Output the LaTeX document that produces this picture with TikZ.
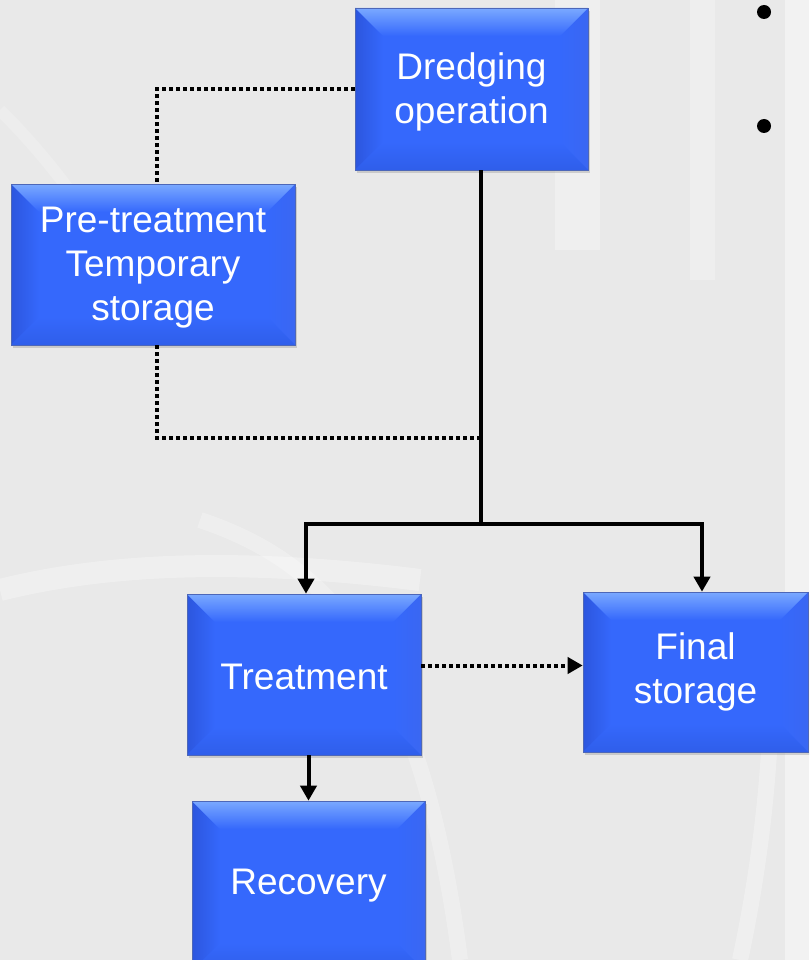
\documentclass[tikz,border=0pt]{standalone}
\usepackage{fontspec}
\setmainfont{Liberation Sans}
\usetikzlibrary{arrows.meta,shadows}
\definecolor{bgc}{HTML}{E9E9E9}
\definecolor{boxc}{HTML}{3568FC}
\definecolor{boxtop}{HTML}{7AA9FF}
\definecolor{boxleft}{HTML}{2C56DE}
\definecolor{boxright}{HTML}{3A67F2}
\definecolor{boxbot}{HTML}{2F5EEA}
\newcommand{\lowtext}[2]{\raisebox{#1}[\height][\depth]{\begin{tabular}{@{}c@{}}#2\end{tabular}}}
\tikzset{
  bluebox/.style={draw=boxleft!60!gray, line width=0.6pt, fill=boxc, inner sep=0pt,
    text=white, align=center, font=\fontsize{37}{44}\selectfont,
    drop shadow={opacity=0.3, shadow xshift=2pt, shadow yshift=-3pt},
    path picture={
      \coordinate (pnw) at (path picture bounding box.north west);
      \coordinate (pne) at (path picture bounding box.north east);
      \coordinate (psw) at (path picture bounding box.south west);
      \coordinate (pse) at (path picture bounding box.south east);
      \shade[left color=boxleft, right color=boxc] (pnw) -- ([xshift=28pt,yshift=-28pt]pnw) -- ([xshift=28pt,yshift=28pt]psw) -- (psw) -- cycle;
      \shade[right color=boxright, left color=boxc] (pne) -- ([xshift=-28pt,yshift=-28pt]pne) -- ([xshift=-28pt,yshift=28pt]pse) -- (pse) -- cycle;
      \shade[bottom color=boxbot, top color=boxc] (psw) -- ([xshift=28pt,yshift=28pt]psw) -- ([xshift=-28pt,yshift=28pt]pse) -- (pse) -- cycle;
      \shade[top color=boxtop, bottom color=boxc] (pnw) -- (pne) -- ([xshift=-28pt,yshift=-28pt]pne) -- ([xshift=28pt,yshift=-28pt]pnw) -- cycle;
    }},
  solidline/.style={line width=4pt, black},
  dotline/.style={line width=4pt, black, dash pattern=on 4pt off 3pt},
  arr/.style={-{Triangle[length=15pt,width=16pt]}},
  bulletdot/.style={circle, fill=black, inner sep=0pt, minimum size=14pt}
}
\begin{document}
\begin{tikzpicture}[x=1pt,y=-1pt]
\useasboundingbox (0,0) rectangle (809,960);
\clip (0,0) rectangle (809,960);
% background
\fill[bgc] (0,0) rectangle (809,960);
\fill[white, opacity=0.3] (555,0) rectangle (600,250);
\fill[white, opacity=0.25] (690,0) rectangle (715,280);
\fill[white, opacity=0.45] (785,0) rectangle (809,960);
\draw[white, opacity=0.3, line width=22pt] (0,590) .. controls (120,560) and (260,560) .. (420,580);
\draw[white, opacity=0.25, line width=16pt] (200,520) .. controls (320,560) and (420,650) .. (460,960);
\draw[white, opacity=0.3, line width=16pt] (740,960) .. controls (770,820) and (775,700) .. (770,600);
\draw[white, opacity=0.2, line width=12pt] (0,110) .. controls (60,170) and (110,240) .. (150,330);

% boxes
\node[bluebox, minimum width=233pt, minimum height=162pt] (dredge) at (471.5,89) {\lowtext{-4pt}{Dredging\\operation}};
\node[bluebox, minimum width=284pt, minimum height=161pt] (pre) at (153,264.5) {\lowtext{-3pt}{Pre-treatment\\Temporary\\storage}};
\node[bluebox, minimum width=234pt, minimum height=161pt] (treat) at (304,674.5) {\raisebox{-2pt}[\height][\depth]{Treatment}};
\node[bluebox, minimum width=225pt, minimum height=160pt] (final) at (695.5,672) {Final\\storage};
\node[bluebox, minimum width=233pt, minimum height=170pt] (rec) at (308.5,886) {Recovery};

% bullets
\node[bulletdot] (b1) at (764,12) {};
\node[bulletdot] (b2) at (764,126) {};

% coordinates
\coordinate (split) at (481,524);
\coordinate (join) at (481,438);
\coordinate (pretop) at ([xshift=4pt]pre.north);
\coordinate (prebot) at ([xshift=4pt]pre.south);

% solid connectors
\draw[solidline] (split |- dredge.south) -- (split);
\draw[solidline, arr] (split) -| ([xshift=2pt]treat.north);
\draw[solidline, arr] (split) -| ([xshift=6.5pt]final.north);
\draw[solidline, arr] (rec.north |- treat.south) -- (rec.north);

% dotted connectors
\draw[dotline] (dredge.west) -| (pretop);
\draw[dotline] (prebot) |- (join);
\draw[dotline, arr] ([yshift=9pt]treat.east) -- ([yshift=9pt]treat.east -| final.west);
\end{tikzpicture}
\end{document}
